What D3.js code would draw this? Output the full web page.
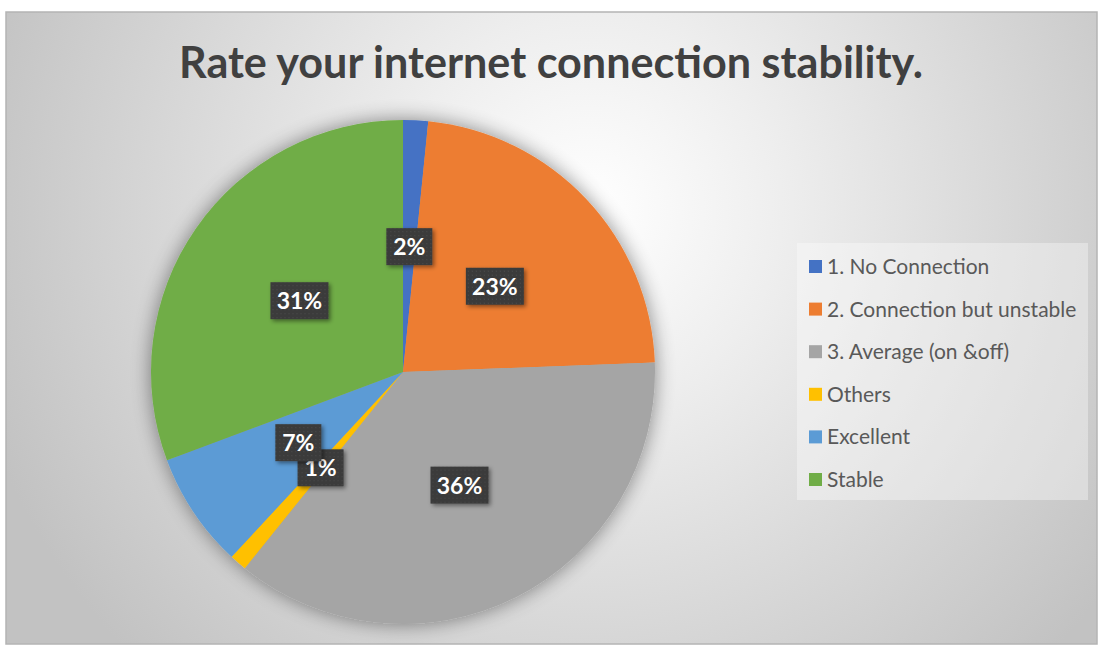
<!DOCTYPE html>
<html>
<head>
<meta charset="utf-8">
<script src="https://cdn.jsdelivr.net/npm/d3@7"></script>
<style>
  html, body { margin: 0; padding: 0; background: #fff; }
  svg { display: block; }
</style>
</head>
<body>
<div id="chart"></div>
<script>
var width  = 1100,
    height = 646;

// data (share of answers, %)
var categories = ["1. No Connection", "2. Connection but unstable", "3. Average (on &off)", "Others", "Excellent", "Stable"];
var values     = [1.6, 22.8, 36.4, 1.1, 7.4, 30.7];
var colors     = ["#4472C4", "#ED7D31", "#A5A5A5", "#FFC000", "#5B9BD5", "#70AD47"];
var title      = "Rate your internet connection stability.";

var cx = 403, cy = 372, radius = 252;

var svg = d3.select("#chart").append("svg")
    .attr("width", width)
    .attr("height", height);

var defs = svg.append("defs");

var bg = defs.append("radialGradient")
    .attr("id", "bg")
    .attr("gradientUnits", "userSpaceOnUse")
    .attr("cx", 590).attr("cy", 210).attr("r", 640);
bg.append("stop").attr("offset", "0").attr("stop-color", "#ffffff");
bg.append("stop").attr("offset", "0.3").attr("stop-color", "#eeeeee");
bg.append("stop").attr("offset", "1").attr("stop-color", "#c2c2c2");

var glow = defs.append("filter").attr("id", "glow")
    .attr("x", "-20%").attr("y", "-20%").attr("width", "140%").attr("height", "140%");
glow.append("feGaussianBlur").attr("in", "SourceAlpha").attr("stdDeviation", 10).attr("result", "b");
glow.append("feComponentTransfer").attr("in", "b").attr("result", "s")
  .append("feFuncA").attr("type", "linear").attr("slope", 0.45);
var gm = glow.append("feMerge");
gm.append("feMergeNode").attr("in", "s");
gm.append("feMergeNode").attr("in", "SourceGraphic");

var boxShadow = defs.append("filter").attr("id", "boxShadow")
    .attr("x", "-30%").attr("y", "-30%").attr("width", "160%").attr("height", "160%");
boxShadow.append("feDropShadow").attr("dx", 2).attr("dy", 2).attr("stdDeviation", 2)
    .attr("flood-color", "#000").attr("flood-opacity", 0.45);

var dots = defs.append("pattern").attr("id", "dots")
    .attr("width", 4).attr("height", 4).attr("patternUnits", "userSpaceOnUse");
dots.append("rect").attr("width", 4).attr("height", 4).attr("fill", "#3b3b3b");
dots.append("rect").attr("x", 1).attr("y", 1).attr("width", 1).attr("height", 1).attr("fill", "#4d4d4d");

// chart area
svg.append("rect")
    .attr("x", 6).attr("y", 12)
    .attr("width", 1091).attr("height", 632)
    .attr("fill", "url(#bg)")
    .attr("stroke", "#b4b4b4")
    .attr("stroke-width", 1.5);

svg.append("text")
    .attr("x", 551).attr("y", 78)
    .attr("text-anchor", "middle")
    .attr("textLength", 744)
    .attr("lengthAdjust", "spacingAndGlyphs")
    .style("font-family", "Lato, 'Open Sans', sans-serif")
    .style("font-weight", "bold")
    .style("font-size", "43px")
    .style("fill", "#404040")
    .text(title);

// pie
var data = categories.map(function(c, i) {
    return { name: c, value: values[i], color: colors[i] };
});

var pie = d3.pie()
    .sort(null)
    .value(function(d) { return d.value; });

var arc = d3.arc()
    .innerRadius(0)
    .outerRadius(radius);

var labelArc = d3.arc()
    .innerRadius(radius * 0.5)
    .outerRadius(radius * 0.5);

var arcs = pie(data);

var gPie = svg.append("g")
    .attr("transform", "translate(" + cx + "," + cy + ")");

gPie.append("g")
    .attr("filter", "url(#glow)")
    .selectAll("path")
    .data(arcs)
    .enter()
    .append("path")
    .attr("d", arc)
    .attr("fill", function(d) { return d.data.color; });

var total = d3.sum(values);

var gLabels = gPie.selectAll("g.label")
    .data(arcs)
    .enter()
    .append("g")
    .attr("class", "label")
    .attr("transform", function(d) {
        var c = labelArc.centroid(d);
        return "translate(" + c[0] + "," + c[1] + ")";
    });

gLabels.each(function(d) {
    var g = d3.select(this);
    var txt = Math.round(d.data.value / total * 100) + "%";
    var w = txt.length > 2 ? 58 : 46;
    g.append("rect")
        .attr("x", -w / 2).attr("y", -18)
        .attr("width", w).attr("height", 37)
        .attr("fill", "url(#dots)")
        .attr("filter", "url(#boxShadow)");
    g.append("text")
        .attr("text-anchor", "middle")
        .attr("y", 9)
        .style("font-family", "Lato, 'Open Sans', sans-serif")
        .style("font-weight", "bold")
        .style("font-size", "23px")
        .style("fill", "#ffffff")
        .text(txt);
});

// legend
var legend = svg.append("g")
    .attr("transform", "translate(797,243)");

legend.append("rect")
    .attr("width", 291).attr("height", 257)
    .attr("fill", "#ffffff")
    .attr("fill-opacity", 0.35);

var rowY = d3.scalePoint()
    .domain(categories)
    .range([23, 236]);

var items = legend.selectAll("g.item")
    .data(data)
    .enter()
    .append("g")
    .attr("class", "item")
    .attr("transform", function(d) { return "translate(0," + rowY(d.name) + ")"; });

items.append("rect")
    .attr("x", 12).attr("y", -6)
    .attr("width", 13).attr("height", 13)
    .attr("fill", function(d) { return d.color; });

items.append("text")
    .attr("x", 30).attr("y", 8)
    .style("font-family", "Lato, 'Open Sans', sans-serif")
    .style("font-size", "21px")
    .style("fill", "#595959")
    .text(function(d) { return d.name; });
</script>
</body>
</html>
